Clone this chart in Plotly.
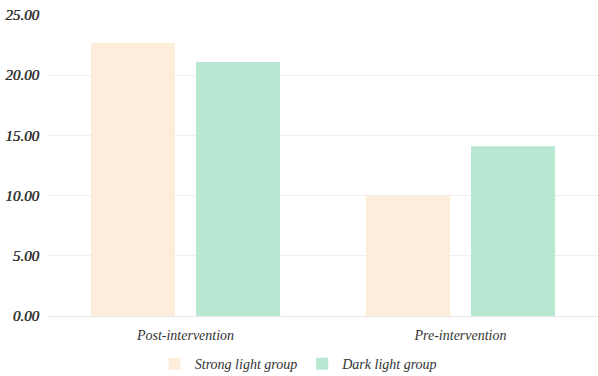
import plotly.graph_objects as go

categories = ["Post-intervention", "Pre-intervention"]
strong_light = [22.7, 10.0]
dark_light = [21.1, 14.1]
y_ticks = [0, 5, 10, 15, 20, 25]
y_tick_labels = ["0.00", "5.00", "10.00", "15.00", "20.00", "25.00"]

font_family = "serif"

fig = go.Figure()
fig.add_trace(go.Bar(name="Strong light group", x=categories, y=strong_light,
                     marker=dict(color="#fdeedc", line=dict(width=0))))
fig.add_trace(go.Bar(name="Dark light group", x=categories, y=dark_light,
                     marker=dict(color="#b8e8d2", line=dict(width=0))))

fig.update_layout(
    width=598, height=376,
    margin=dict(l=48, r=0, t=15, b=60, autoexpand=False),
    paper_bgcolor="white", plot_bgcolor="white",
    barmode="group", bargap=0.236, bargroupgap=0.2,
    font=dict(family=font_family, color="#333333"),
    showlegend=True,
    legend=dict(orientation="h", x=0.456, xanchor="center", y=-0.16, yanchor="middle",
                font=dict(family=font_family, size=14, color="#333333", style="italic"),
                itemwidth=30, tracegroupgap=0),
    xaxis=dict(showgrid=False, showline=True, linecolor="#e6e6e6", linewidth=1,
               ticks="", ticklabelstandoff=6,
               tickfont=dict(family=font_family, size=14, color="#333333", style="italic")),
    yaxis=dict(range=[0, 25], tickvals=y_ticks, ticktext=y_tick_labels,
               showgrid=True, gridcolor="#efefef", gridwidth=1, zeroline=False,
               showline=False, ticks="", ticklabelstandoff=8,
               tickfont=dict(family=font_family, size=15, color="#333333", style="italic",
                             shadow="0.6px 0 0 #333333")),
)

fig.write_html("out.html")
